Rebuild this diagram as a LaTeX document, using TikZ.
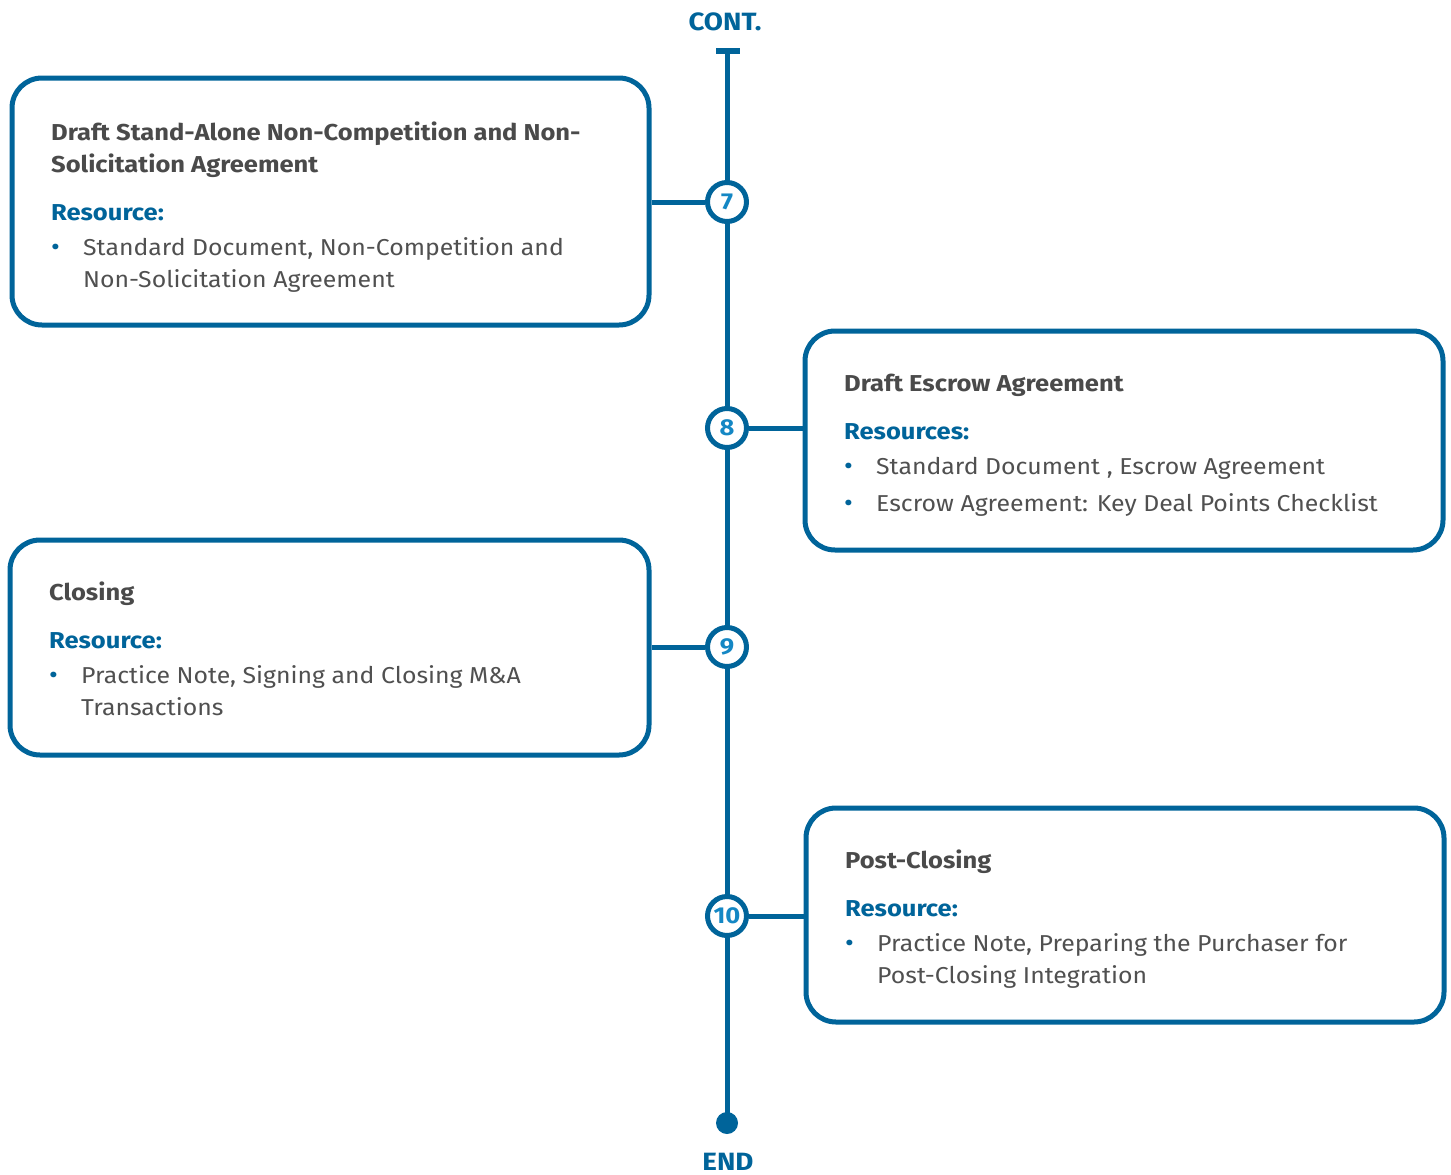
\documentclass[tikz,border=0pt]{standalone}
\usepackage{fontspec}
\setmainfont[FakeStretch=1.08, BoldFeatures={FakeStretch=1.11}]{Fira Sans}
\definecolor{tlblue}{HTML}{00649A}
\definecolor{numblue}{HTML}{1487C4}
\definecolor{txtgray}{HTML}{4A4A4A}
\definecolor{bodygray}{HTML}{505050}
\tikzset{
  stepbox/.style={draw=tlblue, line width=5pt, rounded corners=30pt, fill=white, inner sep=0pt},
  numcirc/.style={circle, draw=tlblue, line width=5pt, fill=white, minimum size=39pt, inner sep=0pt,
    font=\fontsize{23}{23}\selectfont\bfseries, text=numblue},
  conn/.style={draw=tlblue, line width=5pt},
  ttl/.style={anchor=base west, inner sep=0pt, font=\fontsize{23}{28}\selectfont\bfseries, text=txtgray},
  res/.style={anchor=base west, inner sep=0pt, font=\fontsize{23}{28}\selectfont\bfseries, text=tlblue},
  bodytxt/.style={anchor=base west, inner sep=0pt, font=\fontsize{23}{28}\selectfont, text=bodygray},
  bul/.style={anchor=base west, inner sep=0pt, font=\fontsize{25}{28}\selectfont, text=tlblue},
  endlbl/.style={anchor=base, inner sep=0pt, font=\fontsize{25}{25}\selectfont\bfseries, text=tlblue}
}
\begin{document}
\begin{tikzpicture}[x=1pt,y=-1pt]
\useasboundingbox (0,0) rectangle (1451,1175);
% labels
\node[endlbl] (cont) at (725,30) {CONT.};
\node[endlbl] (endl) at (728,1170) {END};
% timeline
\coordinate (top) at (727,51);
\coordinate (topl) at (716,51);
\coordinate (topr) at (740,51);
\coordinate (bot) at (727,1123);
\draw[conn] (top) -- (bot);
\draw[conn, line width=6pt] (topl) -- (topr);
\fill[tlblue] (bot) circle (11pt);
% boxes
\node[stepbox, minimum width=637pt, minimum height=247pt] (b7) at (330.5,201.5) {};
\node[stepbox, minimum width=638pt, minimum height=219pt] (b8) at (1124,440.5) {};
\node[stepbox, minimum width=639pt, minimum height=215pt] (b9) at (329.5,647.5) {};
\node[stepbox, minimum width=638pt, minimum height=214pt] (b10) at (1125,915) {};
% circles
\node[numcirc] (c7) at (727,202) {7};
\node[numcirc] (c8) at (727,428) {8};
\node[numcirc] (c9) at (727,647) {9};
\node[numcirc] (c10) at (727,916) {10};
% connectors
\draw[conn] (b7.east |- c7) -- (c7.west);
\draw[conn] (c8.east) -- (c8.east -| b8.west);
\draw[conn] (b9.east |- c9) -- (c9.west);
\draw[conn] (c10.east) -- (c10.east -| b10.west);
% box 7 text
\node[ttl] (t7a) at (51,140) {Draft Stand-Alone Non-Competition and Non-};
\node[ttl] (t7b) at (51,172) {Solicitation Agreement};
\node[res] (r7) at (51,220) {Resource:};
\node[bul] (u7) at (51,255) {•};
\node[bodytxt] (l7a) at (83,255) {Standard Document, Non-Competition and};
\node[bodytxt] (l7b) at (83,287) {Non-Solicitation Agreement};
% box 8 text
\node[ttl] (t8) at (844,391) {Draft Escrow Agreement};
\node[res] (r8) at (844,439) {Resources:};
\node[bul] (u8a) at (844,474) {•};
\node[bodytxt] (l8a) at (876,474) {Standard Document , Escrow Agreement};
\node[bul] (u8b) at (844,511) {•};
\node[bodytxt] (l8b) at (876,511) {Escrow Agreement: Key Deal Points Checklist};
% box 9 text
\node[ttl] (t9) at (49,600) {Closing};
\node[res] (r9) at (49,648) {Resource:};
\node[bul] (u9) at (49,683) {•};
\node[bodytxt] (l9a) at (81,683) {Practice Note, Signing and Closing M\&A};
\node[bodytxt] (l9b) at (81,715) {Transactions};
% box 10 text
\node[ttl] (t10) at (845,868) {Post-Closing};
\node[res] (r10) at (845,916) {Resource:};
\node[bul] (u10) at (845,951) {•};
\node[bodytxt] (l10a) at (877,951) {Practice Note, Preparing the Purchaser for};
\node[bodytxt] (l10b) at (877,983) {Post-Closing Integration};
\end{tikzpicture}
\end{document}
